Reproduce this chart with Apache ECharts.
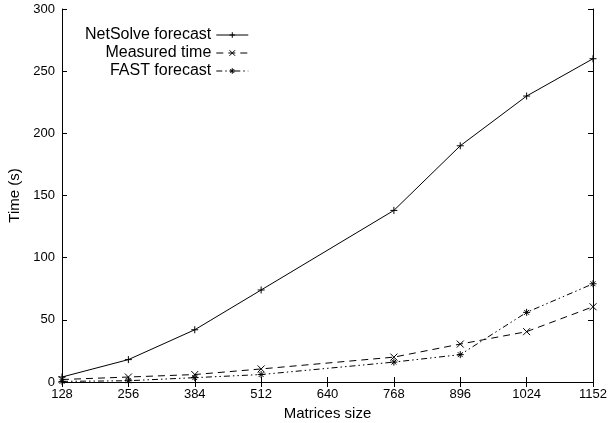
<!DOCTYPE html>
<html>
<head>
<meta charset="utf-8">
<script src="https://cdn.jsdelivr.net/npm/echarts@6/dist/echarts.min.js"></script>
<style>
  html, body { margin: 0; padding: 0; background: #fff; }
  #chart { width: 616px; height: 423px; }
</style>
</head>
<body>
<div id="chart"></div>
<script>
// matrix sizes on the x axis
const sizes = [128, 256, 384, 512, 768, 896, 1024, 1152];
const netsolve = [4, 18, 42, 74, 138, 190, 230, 260];
const measured = [2, 4, 6, 10.5, 20, 30.5, 40.5, 60.5];
const fast = [0.5, 1, 3.5, 6, 16, 22, 56, 79];

const xTicks = [128, 256, 384, 512, 640, 768, 896, 1024, 1152];
const yTicks = [0, 50, 100, 150, 200, 250, 300];

const plus = 'path://M0,5L10,5M5,0L5,10';
const cross = 'path://M1,1L9,9M9,1L1,9';
const star = 'path://M0,5L10,5M5,0L5,10M1.5,1.5L8.5,8.5M8.5,1.5L1.5,8.5';

const pairs = ys => sizes.map((x, i) => [x, ys[i]]);

const font = 'Liberation Sans, Arial, sans-serif';

const mkSeries = (name, ys, sym, dash) => ({
  name: name,
  type: 'line',
  data: pairs(ys),
  symbol: sym,
  symbolSize: 7,
  showSymbol: true,
  lineStyle: { color: '#000', width: 1, type: dash },
  itemStyle: { color: 'none', borderColor: '#000', borderWidth: 1 },
  emphasis: { disabled: true },
  animation: false
});

const chart = echarts.init(document.getElementById('chart'));
chart.setOption({
  animation: false,
  grid: { left: 62, right: 23, top: 9, bottom: 41, outerBoundsMode: 'none' },
  legend: {
    orient: 'vertical',
    align: 'right',
    left: 80,
    top: 22,
    itemGap: 2,
    itemWidth: 32,
    itemHeight: 7,
    lineStyle: { width: 1 },
    itemStyle: { borderWidth: 1 },
    textStyle: { fontFamily: font, fontSize: 16, color: '#000', width: 165, align: 'right', padding: [0, 0, 0, 0] },
    data: ['NetSolve forecast', 'Measured time', 'FAST forecast']
  },
  xAxis: [{
    type: 'value',
    min: xTicks[0], max: xTicks[xTicks.length - 1], interval: 128,
    name: 'Matrices size',
    nameLocation: 'middle',
    nameGap: 21,
    nameTextStyle: { fontFamily: font, fontSize: 15, color: '#000' },
    axisLine: { lineStyle: { color: '#000', width: 1 } },
    axisTick: { inside: true, length: 5, lineStyle: { color: '#000' } },
    axisLabel: { fontFamily: font, fontSize: 13, color: '#000', margin: 6, formatter: v => String(v) },
    splitLine: { show: false }
  }, {
    type: 'value', position: 'top',
    min: xTicks[0], max: xTicks[xTicks.length - 1], interval: 128,
    axisLine: { lineStyle: { color: '#000', width: 1 } },
    axisTick: { inside: true, length: 5, lineStyle: { color: '#000' } },
    axisLabel: { show: false },
    splitLine: { show: false }
  }],
  yAxis: [{
    type: 'value',
    min: yTicks[0], max: yTicks[yTicks.length - 1], interval: 50,
    name: 'Time (s)',
    nameLocation: 'middle',
    nameGap: 32,
    nameTextStyle: { fontFamily: font, fontSize: 15, color: '#000' },
    axisLine: { show: true, lineStyle: { color: '#000', width: 1 } },
    axisTick: { show: true, inside: true, length: 5, lineStyle: { color: '#000' } },
    axisLabel: { fontFamily: font, fontSize: 13, color: '#000', margin: 7 },
    splitLine: { show: false }
  }, {
    type: 'value', position: 'right',
    min: yTicks[0], max: yTicks[yTicks.length - 1], interval: 50,
    axisLine: { show: true, lineStyle: { color: '#000', width: 1 } },
    axisTick: { show: true, inside: true, length: 5, lineStyle: { color: '#000' } },
    axisLabel: { show: false },
    splitLine: { show: false }
  }],
  series: [
    mkSeries('NetSolve forecast', netsolve, plus, 'solid'),
    mkSeries('Measured time', measured, cross, [7, 5]),
    mkSeries('FAST forecast', fast, star, [6, 3, 1.5, 3, 1.5, 3])
  ]
});
</script>
</body>
</html>
